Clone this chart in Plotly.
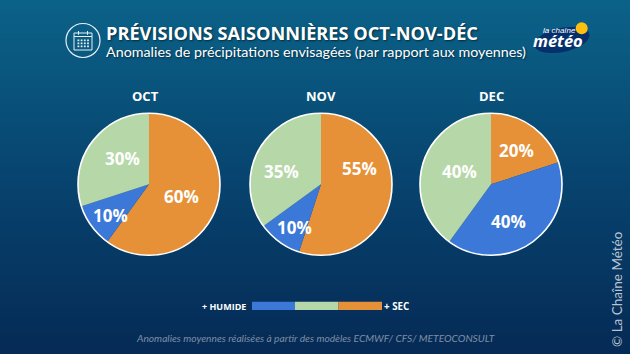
import math
import plotly.graph_objects as go

W, H = 630, 354
months = ["OCT", "NOV", "DEC"]
categories = ["+ SEC", "+ HUMIDE", "Normale"]
oct_values = [60, 10, 30]
nov_values = [55, 10, 35]
dec_values = [20, 40, 40]
series = [oct_values, nov_values, dec_values]
slice_colors = ["#e69138", "#3c78d8", "#b6d7a8"]
title = "PRÉVISIONS SAISONNIÈRES OCT-NOV-DÉC"
subtitle = "Anomalies de précipitations envisagées (par rapport aux moyennes)"
footer = "Anomalies moyennes réalisées à partir des modèles ECMWF/ CFS/ METEOCONSULT"
credit = "© La Chaîne Météo"

# layout, kept apart from the data
centers_x = [149, 321, 491]
month_x = [145, 321, 491]
center_y = 184.3
radius = 71
label_pos = [[(181, 196), (110, 215), (122, 158)],
             [(359, 168), (294, 227), (281, 171)],
             [(516, 150), (508, 221), (459, 171)]]
gradient = [[0, "#052a55"], [0.5, "#07446f"], [1, "#0b6288"]]

px = lambda x: x / W
py = lambda y: 1 - y / H
shadow = "1px 1px 2px rgba(0,0,0,0.55)"


def rect(x0, y0, x1, y1, **kw):
    return dict(type="rect", xref="paper", yref="paper", x0=px(x0), x1=px(x1),
                y0=py(y1), y1=py(y0), layer="above", **kw)


def circle(cx, cy, r, **kw):
    return dict(type="circle", xref="paper", yref="paper", x0=px(cx - r), x1=px(cx + r),
                y0=py(cy + r), y1=py(cy - r), layer="above", **kw)


def tilted_ellipse(cx, cy, rx, ry, deg, **kw):
    t = math.radians(deg)
    pts = []
    for i in range(48):
        a = 2 * math.pi * i / 48
        x = cx + rx * math.cos(a) * math.cos(t) - ry * math.sin(a) * math.sin(t)
        y = cy + rx * math.cos(a) * math.sin(t) + ry * math.sin(a) * math.cos(t)
        pts.append(f"{px(x):.5f},{py(y):.5f}")
    return dict(type="path", xref="paper", yref="paper", layer="above",
                path="M" + " L".join(pts) + " Z", **kw)


def text(x, y, s, size, color="white", family="Open Sans", xanchor="center", angle=0, **kw):
    return dict(x=px(x), y=py(y), xref="paper", yref="paper", text=s, showarrow=False,
                xanchor=xanchor, yanchor="middle", textangle=angle,
                font=dict(size=size, color=color, family=family, **kw))


fig = go.Figure()
fig.add_trace(go.Heatmap(z=[[0, 0], [1, 1]], x=[0, 1], y=[0, 1], colorscale=gradient,
                         zsmooth="best", showscale=False, hoverinfo="skip"))
for cx, vals in zip(centers_x, series):
    fig.add_trace(go.Pie(
        labels=categories, values=vals, sort=False, direction="clockwise", rotation=0,
        marker=dict(colors=slice_colors, line=dict(width=0)), textinfo="none",
        domain=dict(x=[px(cx - radius), px(cx + radius)],
                    y=[py(center_y + radius), py(center_y - radius)]),
        showlegend=False, hoverinfo="skip"))

shapes = [circle(cx, center_y, radius, line=dict(color="white", width=1.6), fillcolor="rgba(0,0,0,0)")
          for cx in centers_x]
# legend bar
shapes += [rect(252, 301.7, 295, 310, fillcolor=slice_colors[1], line_width=0),
           rect(295, 301.7, 338.5, 310, fillcolor=slice_colors[2], line_width=0),
           rect(338.5, 301.7, 382, 310, fillcolor=slice_colors[0], line_width=0)]
# calendar icon
wl = dict(color="#e8f0f4", width=1)
shapes += [circle(83, 40.5, 17, line=dict(color="#e8f0f4", width=1.2), fillcolor="rgba(0,0,0,0)"),
           rect(74, 33, 92, 50, line=wl, fillcolor="rgba(0,0,0,0)"),
           rect(74, 36.5, 92, 36.51, line=wl),
           rect(78.5, 31, 78.51, 34.5, line=wl),
           rect(87.5, 31, 87.51, 34.5, line=wl)]
for gy in (39.5, 42.5, 45.5):
    for gx in (77.5, 80.7, 83.9, 87.1):
        shapes.append(rect(gx, gy, gx + 1.8, gy + 1.7, fillcolor="#e8f0f4", line_width=0))
# logo
shapes += [tilted_ellipse(562, 40, 28, 12, -12, fillcolor="#06306b", line_width=0),
           circle(581.7, 28.3, 6, fillcolor="#fdc010", line_width=0)]

ann = [text(104, 33, title, 18.2, xanchor="left", weight="bold", shadow=shadow),
       text(104, 52, subtitle, 14.3, family="Lato", xanchor="left", shadow=shadow)]
ann += [text(x, 96, m, 13, weight="bold") for x, m in zip(month_x, months)]
for vals, positions in zip(series, label_pos):
    ann += [text(x, y, f"{v}%", 17, weight="bold") for v, (x, y) in zip(vals, positions)]
ann += [text(224, 306, "+ HUMIDE", 9, weight="bold"),
        text(396.5, 306, "+ SEC", 9.8, weight="bold"),
        text(315, 337.5, footer, 10.2, color="#7f8ea5", family="Lato", style="italic"),
        text(617, 289, credit, 13.5, color="#b9c4d1", family="Lato", angle=-90),
        text(559, 30, "la chaîne", 8, family="Liberation Sans", style="italic"),
        text(558, 40.7, "météo", 16.5, family="Open Sans", weight="bold", style="italic")]

fig.update_layout(
    width=W, height=H, margin=dict(l=0, r=0, t=0, b=0), paper_bgcolor="#07446f",
    xaxis=dict(visible=False, range=[0, 1], fixedrange=True),
    yaxis=dict(visible=False, range=[0, 1], fixedrange=True),
    shapes=shapes, annotations=ann)
fig.write_html("out.html", config=dict(displayModeBar=False),
               post_script="document.body.style.margin='0';document.body.style.overflow='hidden';")
